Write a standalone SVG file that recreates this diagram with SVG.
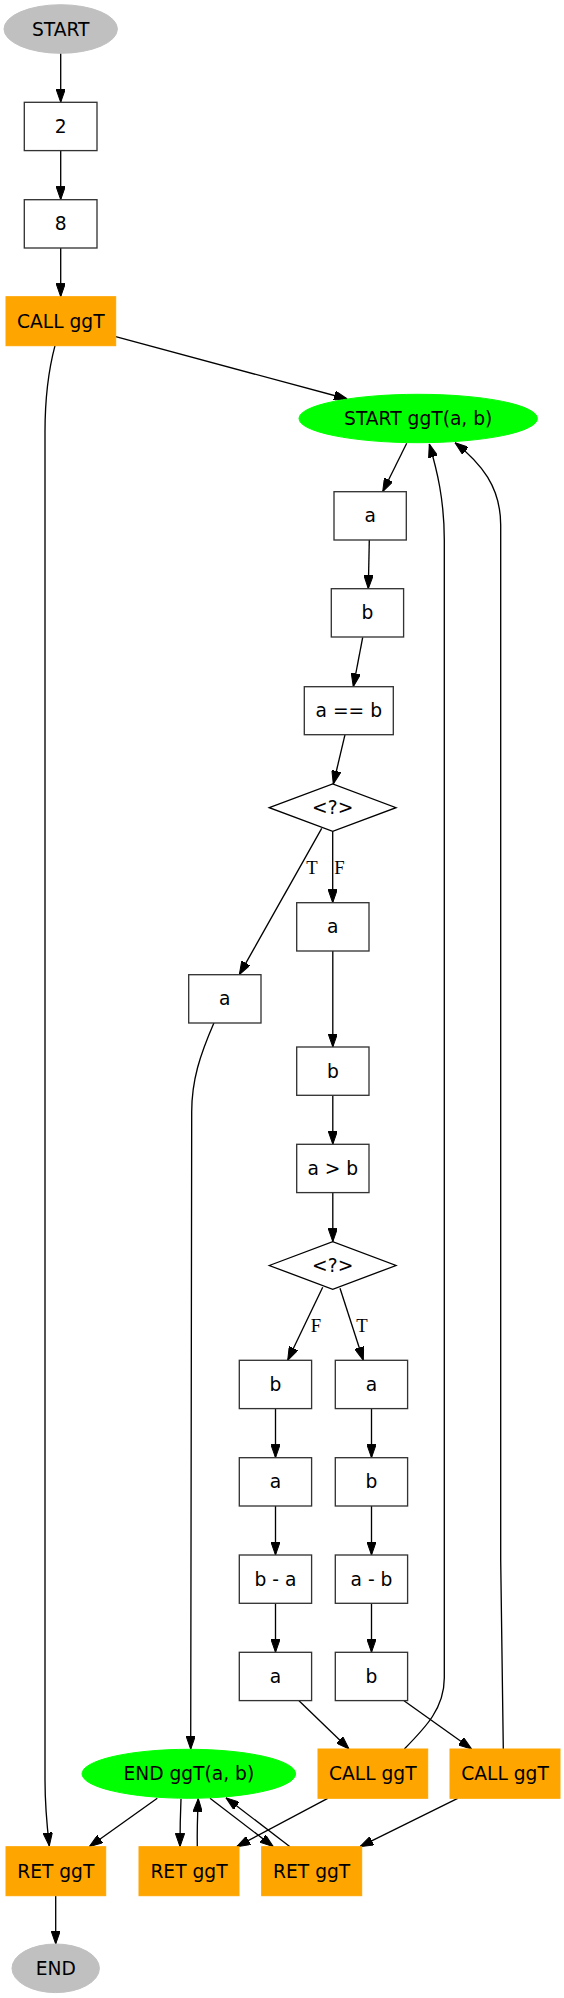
<svg xmlns="http://www.w3.org/2000/svg" width="564" height="1998" viewBox="0 0 564 1998">
<defs>
<marker id="ah" viewBox="0 0 13.33 9.33" refX="13.33" refY="4.67" markerWidth="13.33" markerHeight="9.33" markerUnits="userSpaceOnUse" orient="auto">
<path d="M0,0 L13.33,4.67 L0,9.33 z" fill="#000" stroke="#000" stroke-width="1"/>
</marker>
</defs>
<style>
.box{fill:#fff;stroke:#333;stroke-width:1.33}
.call{fill:#ffa500;stroke:#ffa500;stroke-width:1}
.grey{fill:#c0c0c0;stroke:#c0c0c0;stroke-width:1}
.green{fill:#00ff00;stroke:#00ff00;stroke-width:1}
.dia{fill:#fff;stroke:#000;stroke-width:1.33}
text.t{font-family:"DejaVu Sans",sans-serif;font-size:18.67px;text-anchor:middle;fill:#000}
text.l{font-family:"Liberation Serif",serif;font-size:18.67px;text-anchor:middle;fill:#000}
.e{fill:none;stroke:#000;stroke-width:1.33;marker-end:url(#ah)}
</style>
<rect width="564" height="1998" fill="#fff"/>
<g id="edges">
<path class="e" d="M60.7,53.3 L60.7,102.3"/>
<path class="e" d="M60.7,150.7 L60.7,199.7"/>
<path class="e" d="M60.7,248 L60.7,296.7"/>
<path class="e" d="M115.7,336.7 L347.3,399"/>
<path class="e" d="M55,345.7 C48,372 45,398 45,432 L45,1780 C45,1808 47,1826 49.3,1846"/>
<path class="e" d="M406.7,443.3 L382.7,491.7"/>
<path class="e" d="M369.3,540 L368.3,588.7"/>
<path class="e" d="M362.7,637.3 L353.3,686.7"/>
<path class="e" d="M345,734.7 L333.3,784"/>
<path class="e" d="M321.7,828.3 L239.3,974.7"/>
<path class="e" d="M332.7,831.3 L332.7,902.7"/>
<path class="e" d="M332.8,951 L332.8,1047"/>
<path class="e" d="M332.8,1095.3 L332.8,1144.3"/>
<path class="e" d="M332.8,1192.6 L332.8,1241.7"/>
<path class="e" d="M322.7,1287.3 L287.7,1360.3"/>
<path class="e" d="M340,1288.3 L363.3,1360.3"/>
<path class="e" d="M275.5,1408.7 L275.5,1457.7"/>
<path class="e" d="M371.5,1408.7 L371.5,1457.7"/>
<path class="e" d="M275.5,1506 L275.5,1555"/>
<path class="e" d="M371.5,1506 L371.5,1555"/>
<path class="e" d="M275.5,1603.3 L275.5,1652.3"/>
<path class="e" d="M371.5,1603.3 L371.5,1652.3"/>
<path class="e" d="M299,1700.7 L349,1749"/>
<path class="e" d="M404,1700.7 L471.7,1749"/>
<path class="e" d="M404.3,1749 C426,1727 444.3,1708 444.3,1678 L444.3,540 C444.3,500 437,470 429.3,444"/>
<path class="e" d="M503.3,1749 L500.7,1560 L500.7,525 C500.7,487 481,463 455,442.7"/>
<path class="e" d="M327.7,1798.3 L236.7,1846.7"/>
<path class="e" d="M457.7,1798.3 L360,1846.7"/>
<path class="e" d="M214,1022.7 C200,1055 191.7,1080 191.7,1112 L190.7,1749.3"/>
<path class="e" d="M157.3,1798.3 L89.3,1846.7"/>
<path class="e" d="M181,1799 C180.3,1815 180,1830 180,1846.7"/>
<path class="e" d="M197.3,1846.7 C197,1830 197.5,1815 198.3,1798.5"/>
<path class="e" d="M210,1798.3 L273.3,1846.7"/>
<path class="e" d="M290,1846.7 L226,1797.8"/>
<path class="e" d="M55.7,1895.7 L55.7,1944"/>
<text class="l" x="312" y="874.3">T</text>
<text class="l" x="339.5" y="874.3">F</text>
<text class="l" x="316" y="1332.3">F</text>
<text class="l" x="362" y="1332.3">T</text>
</g>
<g id="n_start"><ellipse class="grey" cx="60.7" cy="29" rx="56.7" ry="24.3"/><text class="t" x="60.7" y="35.5">START</text></g>
<g id="n_2"><rect class="box" x="24.3" y="102.3" width="72.7" height="48.3"/><text class="t" x="60.7" y="133">2</text></g>
<g id="n_8"><rect class="box" x="24.3" y="199.7" width="72.7" height="48.3"/><text class="t" x="60.7" y="230.3">8</text></g>
<g id="n_call0"><rect class="call" x="6" y="296.7" width="109.7" height="49"/><text class="t" x="60.8" y="327.7">CALL ggT</text></g>
<g id="n_startggt"><ellipse class="green" cx="418.2" cy="418.5" rx="119.2" ry="24.2"/><text class="t" x="418.2" y="425">START ggT(a, b)</text></g>
<g id="n_a1"><rect class="box" x="334" y="491.7" width="72.3" height="48.3"/><text class="t" x="370.2" y="522.3">a</text></g>
<g id="n_b1"><rect class="box" x="331.3" y="588.7" width="72.3" height="48.3"/><text class="t" x="367.5" y="619.3">b</text></g>
<g id="n_eq"><rect class="box" x="304.3" y="686.7" width="89" height="48"/><text class="t" x="348.8" y="717.2">a == b</text></g>
<g id="n_d1"><polygon class="dia" points="269.3,807.7 332.7,784 396,807.7 332.7,831.3"/><text class="t" x="332.7" y="814.2">&lt;?&gt;</text></g>
<g id="n_fa"><rect class="box" x="296.7" y="902.7" width="72.3" height="48.3"/><text class="t" x="332.8" y="933.3">a</text></g>
<g id="n_ta"><rect class="box" x="188.7" y="974.7" width="72.3" height="48.3"/><text class="t" x="224.8" y="1005.3">a</text></g>
<g id="n_b2"><rect class="box" x="296.7" y="1047" width="72.3" height="48.3"/><text class="t" x="332.8" y="1077.6">b</text></g>
<g id="n_gt"><rect class="box" x="296.7" y="1144.3" width="72.3" height="48.3"/><text class="t" x="332.8" y="1174.9">a &gt; b</text></g>
<g id="n_d2"><polygon class="dia" points="269.3,1265.5 332.7,1241.7 396,1265.5 332.7,1289.3"/><text class="t" x="332.7" y="1272">&lt;?&gt;</text></g>
<g id="n_l1"><rect class="box" x="239.3" y="1360.3" width="72.3" height="48.3"/><text class="t" x="275.5" y="1391">b</text></g>
<g id="n_r1"><rect class="box" x="335.3" y="1360.3" width="72.3" height="48.3"/><text class="t" x="371.5" y="1391">a</text></g>
<g id="n_l2"><rect class="box" x="239.3" y="1457.7" width="72.3" height="48.3"/><text class="t" x="275.5" y="1488.3">a</text></g>
<g id="n_r2"><rect class="box" x="335.3" y="1457.7" width="72.3" height="48.3"/><text class="t" x="371.5" y="1488.3">b</text></g>
<g id="n_l3"><rect class="box" x="239.3" y="1555" width="72.3" height="48.3"/><text class="t" x="275.5" y="1585.6">b - a</text></g>
<g id="n_r3"><rect class="box" x="335.3" y="1555" width="72.3" height="48.3"/><text class="t" x="371.5" y="1585.6">a - b</text></g>
<g id="n_l4"><rect class="box" x="239.3" y="1652.3" width="72.3" height="48.3"/><text class="t" x="275.5" y="1683">a</text></g>
<g id="n_r4"><rect class="box" x="335.3" y="1652.3" width="72.3" height="48.3"/><text class="t" x="371.5" y="1683">b</text></g>
<g id="n_callL"><rect class="call" x="318" y="1749" width="109.7" height="49.3"/><text class="t" x="372.8" y="1780.2">CALL ggT</text></g>
<g id="n_callR"><rect class="call" x="450" y="1749" width="110" height="49.3"/><text class="t" x="505" y="1780.2">CALL ggT</text></g>
<g id="n_endggt"><ellipse class="green" cx="188.8" cy="1773.8" rx="106.8" ry="24.5"/><text class="t" x="188.8" y="1780.3">END ggT(a, b)</text></g>
<g id="n_ret0"><rect class="call" x="6" y="1846.7" width="99.7" height="49"/><text class="t" x="55.8" y="1877.7">RET ggT</text></g>
<g id="n_retM"><rect class="call" x="139" y="1846.7" width="100" height="49"/><text class="t" x="189" y="1877.7">RET ggT</text></g>
<g id="n_retR"><rect class="call" x="261.7" y="1846.7" width="100" height="49"/><text class="t" x="311.7" y="1877.7">RET ggT</text></g>
<g id="n_end"><ellipse class="grey" cx="55.7" cy="1968.3" rx="43.7" ry="24.3"/><text class="t" x="55.7" y="1974.8">END</text></g>
</svg>
